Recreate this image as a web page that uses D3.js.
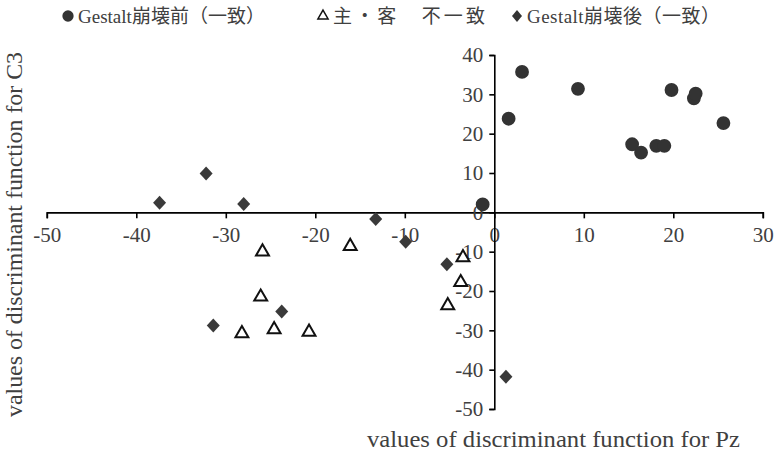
<!DOCTYPE html>
<html>
<head>
<meta charset="utf-8">
<script src="https://cdn.jsdelivr.net/npm/d3@7"></script>
<style>
  body { margin: 0; background: #fff; }
</style>
</head>
<body>
<div id="chart"></div>
<script>
// series (x = Pz, y = C3)
var beforeX = [-1.3, 1.6, 3.1, 9.35, 15.4, 16.4, 18.1, 19.0, 19.8, 22.3, 22.5, 25.6];
var beforeY = [2.0, 23.8, 35.7, 31.4, 17.3, 15.2, 16.9, 16.9, 31.1, 29.0, 30.2, 22.7];
var mismatchX = [-25.9, -16.1, -26.1, -28.2, -24.6, -20.7, -3.5, -3.75, -5.2];
var mismatchY = [-10.0, -8.6, -21.5, -30.8, -29.8, -30.4, -11.5, -17.8, -23.7];
var afterX = [-32.2, -37.4, -28.0, -13.25, -9.9, -5.3, -23.75, -31.4, 1.3];
var afterY = [9.9, 2.45, 2.1, -1.7, -7.5, -13.2, -25.2, -28.8, -41.8];

var xTicks = [-50, -40, -30, -20, -10, 0, 10, 20, 30];
var yTicks = [-50, -40, -30, -20, -10, 0, 10, 20, 30, 40];
var seriesNames = ["Gestalt崩壊前（一致）", "主・客　不一致", "Gestalt崩壊後（一致）"];

var FONT = "'Liberation Serif', 'Noto Sans CJK JP', serif";
var W = 780, H = 453;
var svg = d3.select("#chart").append("svg")
  .attr("width", W).attr("height", H)
  .style("font-family", FONT);

var x = d3.scaleLinear().domain([-50, 30]).range([46.8, 762.8]);
var y = d3.scaleLinear().domain([-50, 40]).range([409, 55]);

// x axis through y = 0
var xAxis = svg.append("g")
  .attr("transform", "translate(0," + y(0) + ")")
  .call(d3.axisBottom(x).tickValues(xTicks).tickSize(6).tickPadding(9).tickFormat(function(d) { return String(d); }));
xAxis.select(".domain").attr("stroke", "#000").attr("stroke-width", 1.6);
xAxis.selectAll(".tick line").attr("stroke", "#000").attr("stroke-width", 1.6);
xAxis.selectAll(".tick text")
  .style("font-family", FONT)
  .style("font-size", "21px")
  .attr("fill", "#404040");

// y axis through x = 0
var yAxis = svg.append("g")
  .attr("transform", "translate(" + x(0) + ",0)")
  .call(d3.axisLeft(y).tickValues(yTicks).tickSize(5).tickPadding(6).tickFormat(function(d) { return String(d); }));
yAxis.select(".domain").attr("stroke", "#000").attr("stroke-width", 1.6);
yAxis.selectAll(".tick line").attr("stroke", "#000").attr("stroke-width", 1.6);
yAxis.selectAll(".tick text")
  .style("font-family", FONT)
  .style("font-size", "21px")
  .attr("fill", "#404040");

// axis titles
svg.append("text")
  .attr("x", 367).attr("y", 447)
  .attr("fill", "#404040")
  .attr("textLength", 373)
  .attr("lengthAdjust", "spacingAndGlyphs")
  .style("font-size", "23px")
  .text("values of discriminant function for Pz");

svg.append("text")
  .attr("transform", "translate(22,417) rotate(-90)")
  .attr("fill", "#404040")
  .attr("textLength", 365)
  .attr("lengthAdjust", "spacingAndGlyphs")
  .style("font-size", "23px")
  .text("values of discriminant function for C3");

// points
function diamond(w, h) {
  return "M0," + (-h) + "L" + w + ",0L0," + h + "L" + (-w) + ",0Z";
}
var circleSym = d3.symbol().type(d3.symbolCircle).size(150);
var triSym = d3.symbol().type(d3.symbolTriangle).size(72);

svg.append("g").selectAll("path")
  .data(beforeX.map(function(d, i) { return [d, beforeY[i]]; }))
  .enter().append("path")
  .attr("d", circleSym)
  .attr("transform", function(d) { return "translate(" + x(d[0]) + "," + y(d[1]) + ")"; })
  .attr("fill", "#333");

svg.append("g").selectAll("path")
  .data(mismatchX.map(function(d, i) { return [d, mismatchY[i]]; }))
  .enter().append("path")
  .attr("d", triSym)
  .attr("transform", function(d) { return "translate(" + x(d[0]) + "," + y(d[1]) + ")"; })
  .attr("fill", "#fff")
  .attr("stroke", "#111")
  .attr("stroke-width", 2);

svg.append("g").selectAll("path")
  .data(afterX.map(function(d, i) { return [d, afterY[i]]; }))
  .enter().append("path")
  .attr("d", diamond(6.5, 7))
  .attr("transform", function(d) { return "translate(" + x(d[0]) + "," + y(d[1]) + ")"; })
  .attr("fill", "#3a3a3a");

// legend
var legend = svg.append("g");
var legendItems = [
  { x: 68, d: d3.symbol().type(d3.symbolCircle).size(100)(), fill: "#333", stroke: "none", tx: 78, tw: 187 },
  { x: 323, d: d3.symbol().type(d3.symbolTriangle).size(45)(), fill: "#fff", stroke: "#111", tx: 333, tw: 152 },
  { x: 517, d: diamond(5, 6), fill: "#333", stroke: "none", tx: 527, tw: 193 }
];
legendItems.forEach(function(it, i) {
  legend.append("path")
    .attr("d", it.d)
    .attr("transform", "translate(" + it.x + ",16)")
    .attr("fill", it.fill)
    .attr("stroke", it.stroke)
    .attr("stroke-width", 1.5);
  legend.append("text")
    .attr("x", it.tx).attr("y", 23)
    .attr("fill", "#404040")
    .attr("textLength", it.tw)
    .attr("lengthAdjust", "spacing")
    .style("font-size", "19px")
    .text(seriesNames[i]);
});
</script>
</body>
</html>
